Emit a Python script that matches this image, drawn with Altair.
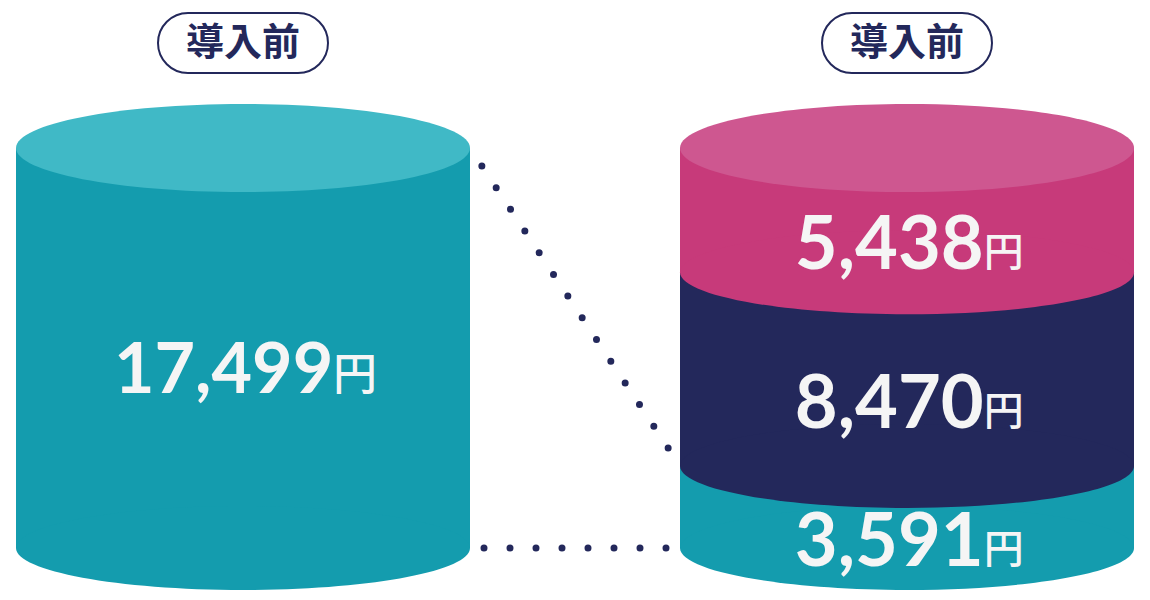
import altair as alt
import pandas as pd

# ---------------- data ----------------
groups = ["before", "after"]
pill_labels = ["導入前", "導入前"]

segment_group = ["before", "after", "after", "after"]   # bottom-first within each group
segment_values = [17499, 3591, 8470, 5438]
segment_colors = ["#149CAE", "#149CAE", "#23285B", "#C73A7A"]
top_group = ["before", "after"]
top_colors = ["#40B9C6", "#CE5790"]

NAVY = "#23285B"
LABEL_COLOR = "#F5F5F5"

# ---------------- layout (pixels, plot coordinates) ----------------
W, H = 1134, 584
X_LEFT, X_RIGHT = 8, 1126
CYL_W = 454
BODY_TOP, BODY_BOTTOM = 140, 540

# build tables from the arrays
rows = []
cum = {g: 0 for g in groups}
for g, v, c in zip(segment_group, segment_values, segment_colors):
    start = cum[g]
    end = start + v
    cum[g] = end
    rows.append({"group": g, "value": v, "start": start, "end": end,
                 "mid": (start + end) / 2, "color": c, "label": f"{v:,}"})
seg = pd.DataFrame(rows)
seg["idx"] = range(len(seg))
tops = pd.DataFrame({"group": top_group, "color": top_colors,
                     "level": [cum[g] for g in top_group]})
pills = pd.DataFrame({"group": groups, "pill": pill_labels})

total = max(cum.values())
px_per = (BODY_BOTTOM - BODY_TOP) / total
y_domain = [-(H - BODY_BOTTOM) / px_per, BODY_BOTTOM / px_per]
R = X_RIGHT - X_LEFT
pad_inner = (R - 2 * CYL_W) / (R - CYL_W)

x_scale = alt.Scale(type="band", domain=groups, range=[X_LEFT, X_RIGHT],
                    paddingInner=pad_inner, paddingOuter=0)
y_scale = alt.Scale(domain=y_domain, range=[H, 0], nice=False, zero=False)


def X():
    return alt.X("group:N", scale=x_scale, axis=None)


def ellipse(ratio):
    return f"M-1,0A1,{ratio} 0 1,0 1,0A1,{ratio} 0 1,0 -1,0Z"


# connectors (dotted) -----------------------------------------------------
def ypx(v):
    return BODY_BOTTOM - v * px_per

left_val = cum["before"]
right_val = seg[(seg.group == "after")].iloc[0]["end"]
gap_px = R - 2 * CYL_W  # horizontal distance between cylinders
SP = 26


def dash_offset(length):
    n = int(length // SP)
    margin = (length - (n - 1) * SP) / 2
    return SP - margin


diag_len = (gap_px ** 2 + (ypx(right_val) - ypx(left_val)) ** 2) ** 0.5
conn_diag = pd.DataFrame({"g1": ["before"], "g2": ["after"],
                          "y1": [left_val], "y2": [right_val]})
conn_flat = pd.DataFrame({"g1": ["before"], "g2": ["after"],
                          "y1": [0], "y2": [0]})


def connector(df, length):
    return alt.Chart(df).mark_rule(
        color=NAVY, strokeWidth=7, strokeCap="round",
        strokeDash=[0, SP], strokeDashOffset=dash_offset(length)
    ).encode(
        x=alt.X("g1:N", scale=x_scale, axis=None, bandPosition=1),
        x2=alt.X2("g2:N", bandPosition=0),
        y=alt.Y("y1:Q", scale=y_scale, axis=None),
        y2="y2:Q",
    )


layers = [connector(conn_diag, diag_len), connector(conn_flat, gap_px)]

# cylinder bodies ----------------------------------------------------------
layers.append(
    alt.Chart(seg).mark_bar(strokeWidth=0).encode(
        x=X(),
        y=alt.Y("start:Q", scale=y_scale, axis=None),
        y2="end:Q",
        color=alt.Color("color:N", scale=None),
    )
)
# bottom bulges of each segment
layers.append(
    alt.Chart(seg).mark_point(filled=True, opacity=1, strokeWidth=0,
                              shape=ellipse(0.185), size=CYL_W ** 2).encode(
        x=X(),
        y=alt.Y("start:Q", scale=y_scale, axis=None),
        color=alt.Color("color:N", scale=None),
        order=alt.Order("idx:Q"),
    )
)
# top faces
layers.append(
    alt.Chart(tops).mark_point(filled=True, opacity=1, strokeWidth=0,
                               shape=ellipse(0.194), size=CYL_W ** 2).encode(
        x=X(),
        y=alt.Y("level:Q", scale=y_scale, axis=None),
        color=alt.Color("color:N", scale=None),
    )
)

# value labels -------------------------------------------------------------
for _, r in seg.iterrows():
    before = r["group"] == "before"
    fs_num = 70 if before else 74
    fs_yen = 44 if before else 40
    dy = 45 if before else 59
    txt = r["label"]
    w_num = sum(0.24 * fs_num if ch == "," else 0.58 * fs_num for ch in txt)
    ink_total = w_num + 4 + 0.8 * fs_yen
    num_right = -ink_total / 2 + w_num
    yen_left = num_right + 4 - 0.1 * fs_yen
    base = alt.Chart(seg).transform_filter(alt.datum.idx == int(r["idx"]))
    layers.append(
        base.mark_text(font="Lato", fontWeight="bold", fontSize=fs_num,
                       color=LABEL_COLOR, align="right", baseline="alphabetic",
                       dx=num_right, dy=dy).encode(
            x=X(), y=alt.Y("mid:Q", scale=y_scale, axis=None), text="label:N")
    )
    layers.append(
        base.mark_text(font="Noto Sans CJK JP", fontWeight=500, fontSize=fs_yen,
                       color=LABEL_COLOR, align="left", baseline="alphabetic",
                       dx=yen_left, dy=dy - 3).encode(
            x=X(), y=alt.Y("mid:Q", scale=y_scale, axis=None), text=alt.value("円"))
    )

# pills ----------------------------------------------------------------------
layers.append(
    alt.Chart(pills).mark_bar(width=170, cornerRadius=30, fill="white",
                              stroke=NAVY, strokeWidth=2).encode(
        x=X(), y=alt.value(5), y2=alt.value(65))
)
layers.append(
    alt.Chart(pills).mark_text(font="Noto Sans CJK JP", fontWeight="bold",
                               fontSize=38, color=NAVY, baseline="middle",
                               dy=1).encode(
        x=X(), y=alt.value(35), text="pill:N")
)

chart = alt.layer(*layers).properties(
    width=W, height=H, padding=0, autosize=alt.AutoSizeParams(type="none"),
    background="white"
).configure_view(stroke=None)

chart.save("out.html", embed_options={"renderer": "svg", "actions": False})
